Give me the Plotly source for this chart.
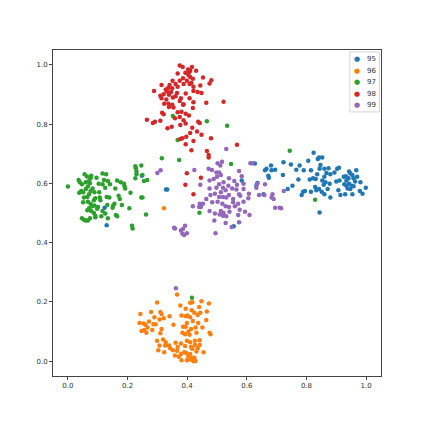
import plotly.graph_objects as go

# cluster labels and colours (matplotlib tab10)
labels = ["95", "96", "97", "98", "99"]
colors = ["#1f77b4", "#ff7f0e", "#2ca02c", "#d62728", "#9467bd"]

# points, (x, y)
pts_95 = [(0.627,0.667),(0.661,0.644),(0.666,0.649),(0.681,0.660),(0.683,0.644),(0.695,0.646),
          (0.672,0.626),(0.674,0.619),(0.636,0.601),(0.632,0.592),(0.721,0.628),(0.723,0.671),
          (0.748,0.664),(0.766,0.646),(0.777,0.660),(0.791,0.644),(0.806,0.676),(0.815,0.644),
          (0.824,0.703),(0.838,0.682),(0.842,0.687),(0.853,0.687),(0.847,0.662),(0.844,0.649),
          (0.860,0.649),(0.874,0.651),(0.867,0.635),(0.880,0.631),(0.894,0.637),(0.903,0.649),
          (0.909,0.653),(0.836,0.631),(0.822,0.617),(0.811,0.613),(0.831,0.615),(0.853,0.610),
          (0.860,0.622),(0.773,0.613),(0.753,0.592),(0.737,0.581),(0.789,0.572),(0.784,0.561),
          (0.795,0.574),(0.815,0.572),(0.829,0.588),(0.833,0.577),(0.842,0.581),(0.851,0.572),
          (0.860,0.563),(0.871,0.581),(0.858,0.595),(0.864,0.604),(0.878,0.599),(0.900,0.606),
          (0.911,0.610),(0.925,0.622),(0.932,0.624),(0.934,0.610),(0.943,0.640),(0.947,0.633),
          (0.954,0.628),(0.967,0.644),(0.970,0.622),(0.958,0.617),(0.941,0.617),(0.927,0.597),
          (0.934,0.592),(0.943,0.599),(0.952,0.592),(0.938,0.583),(0.947,0.581),(0.958,0.590),
          (0.963,0.606),(0.981,0.604),(0.999,0.585),(0.979,0.574),(0.988,0.565),(0.954,0.563),
          (0.930,0.563),(0.914,0.561),(0.907,0.577),(0.880,0.552),(0.844,0.502),
          (0.248,0.626),(0.329,0.579),(0.333,0.579),(0.123,0.518),(0.130,0.459),(0.583,0.610),
          (0.656,0.563),(0.556,0.455)]

pts_96 = [(0.366,0.225),(0.410,0.197),(0.417,0.199),(0.448,0.202),(0.473,0.195),(0.299,0.198),
          (0.377,0.188),(0.395,0.177),(0.415,0.172),(0.440,0.183),(0.444,0.163),(0.424,0.163),
          (0.401,0.154),(0.395,0.152),(0.381,0.154),(0.341,0.152),(0.310,0.166),(0.314,0.159),
          (0.279,0.166),(0.243,0.159),(0.290,0.148),(0.466,0.168),(0.435,0.156),(0.410,0.148),
          (0.419,0.136),(0.464,0.139),(0.437,0.129),(0.399,0.129),(0.321,0.145),(0.307,0.141),
          (0.240,0.129),(0.254,0.127),(0.260,0.123),(0.272,0.134),(0.287,0.125),(0.294,0.125),
          (0.267,0.114),(0.256,0.105),(0.247,0.102),(0.263,0.096),(0.283,0.105),(0.314,0.109),
          (0.354,0.123),(0.386,0.116),(0.395,0.116),(0.413,0.109),(0.428,0.114),(0.451,0.114),
          (0.384,0.096),(0.393,0.091),(0.404,0.100),(0.408,0.089),(0.431,0.096),(0.475,0.096),
          (0.478,0.091),(0.310,0.094),(0.299,0.069),(0.319,0.073),(0.328,0.064),(0.307,0.053),
          (0.326,0.053),(0.339,0.053),(0.361,0.062),(0.343,0.044),(0.352,0.037),(0.303,0.037),
          (0.323,0.030),(0.366,0.035),(0.379,0.060),(0.393,0.051),(0.399,0.069),(0.410,0.064),
          (0.426,0.055),(0.442,0.055),(0.368,0.048),(0.379,0.024),(0.390,0.030),(0.397,0.028),
          (0.404,0.017),(0.410,0.024),(0.417,0.012),(0.424,0.012),(0.431,0.033),(0.435,0.044),
          (0.455,0.030),(0.372,0.015),(0.381,0.003),(0.399,0.003),(0.410,0.006),(0.428,0.001),
          (0.421,0.000),(0.359,0.019),(0.426,0.069),(0.442,0.071),(0.413,0.048),(0.417,0.042),
          (0.322,0.516)]

pts_97 = [(0.000,0.589),(0.036,0.611),(0.040,0.604),(0.056,0.631),(0.064,0.623),(0.047,0.597),
          (0.060,0.604),(0.071,0.608),(0.076,0.617),(0.078,0.626),(0.074,0.600),(0.067,0.589),
          (0.060,0.581),(0.051,0.570),(0.038,0.568),(0.045,0.574),(0.083,0.583),(0.076,0.574),
          (0.096,0.619),(0.116,0.633),(0.128,0.631),(0.121,0.611),(0.134,0.608),(0.141,0.597),
          (0.103,0.599),(0.116,0.597),(0.125,0.585),(0.105,0.570),(0.089,0.570),(0.071,0.563),
          (0.065,0.554),(0.054,0.552),(0.051,0.536),(0.067,0.538),(0.076,0.531),(0.087,0.543),
          (0.092,0.550),(0.107,0.552),(0.109,0.543),(0.130,0.554),(0.139,0.552),(0.081,0.523),
          (0.071,0.516),(0.065,0.509),(0.078,0.507),(0.089,0.525),(0.101,0.520),(0.098,0.514),
          (0.116,0.507),(0.125,0.498),(0.112,0.489),(0.092,0.491),(0.087,0.500),(0.132,0.527),
          (0.152,0.525),(0.150,0.518),(0.156,0.531),(0.170,0.558),(0.174,0.547),(0.165,0.610),
          (0.177,0.604),(0.188,0.599),(0.190,0.590),(0.192,0.583),(0.159,0.583),(0.181,0.527),
          (0.206,0.516),(0.210,0.568),(0.228,0.651),(0.230,0.640),(0.230,0.631),(0.226,0.658),
          (0.246,0.660),(0.250,0.628),(0.226,0.617),(0.255,0.608),(0.266,0.611),(0.315,0.685),
          (0.246,0.552),(0.250,0.552),(0.262,0.495),(0.215,0.457),(0.217,0.448),(0.047,0.482),
          (0.054,0.477),(0.060,0.475),(0.067,0.475),(0.074,0.482),(0.092,0.486),(0.161,0.493),
          (0.165,0.489),(0.134,0.482),
          (0.352,0.827),(0.466,0.810),(0.534,0.794),(0.368,0.746),(0.373,0.679),(0.547,0.665),
          (0.441,0.501),(0.744,0.710),(0.829,0.545),(0.416,0.214)]

pts_98 = [(0.375,0.998),(0.385,0.993),(0.416,0.993),(0.403,0.984),(0.410,0.980),(0.368,0.971),
          (0.394,0.973),(0.406,0.975),(0.430,0.980),(0.404,0.966),(0.410,0.959),(0.386,0.955),
          (0.419,0.953),(0.453,0.957),(0.481,0.948),(0.375,0.946),(0.399,0.946),(0.351,0.946),
          (0.414,0.939),(0.361,0.935),(0.388,0.935),(0.408,0.935),(0.314,0.932),(0.341,0.932),
          (0.421,0.926),(0.368,0.926),(0.337,0.923),(0.350,0.921),(0.328,0.917),(0.475,0.937),
          (0.444,0.930),(0.289,0.912),(0.332,0.910),(0.346,0.908),(0.321,0.901),(0.366,0.905),
          (0.395,0.903),(0.421,0.912),(0.435,0.908),(0.448,0.905),(0.310,0.896),(0.314,0.887),
          (0.339,0.899),(0.352,0.890),(0.330,0.883),(0.361,0.894),(0.379,0.887),(0.408,0.887),
          (0.375,0.878),(0.323,0.869),(0.337,0.869),(0.350,0.865),(0.388,0.867),(0.421,0.874),
          (0.464,0.872),(0.522,0.875),(0.339,0.858),(0.354,0.856),(0.386,0.865),(0.419,0.854),
          (0.316,0.838),(0.321,0.833),(0.368,0.840),(0.381,0.842),(0.395,0.835),(0.406,0.829),
          (0.375,0.824),(0.265,0.815),(0.285,0.804),(0.292,0.808),(0.310,0.811),(0.359,0.820),
          (0.388,0.813),(0.395,0.802),(0.377,0.797),(0.437,0.808),(0.442,0.804),(0.334,0.786),
          (0.348,0.791),(0.417,0.788),(0.410,0.770),(0.433,0.775),(0.448,0.764),(0.384,0.752),
          (0.377,0.750),(0.397,0.757),(0.421,0.743),(0.395,0.732),(0.480,0.752),(0.567,0.730),
          (0.414,0.712),(0.466,0.709),(0.472,0.696),(0.472,0.687),(0.399,0.634),(0.446,0.619),
          (0.394,0.595),(0.421,0.563)]

pts_99 = [(0.531,0.716),(0.517,0.673),(0.502,0.668),(0.511,0.660),(0.424,0.645),(0.472,0.649),
          (0.483,0.645),(0.498,0.637),(0.507,0.637),(0.513,0.628),(0.500,0.622),(0.489,0.615),
          (0.574,0.642),(0.583,0.624),(0.475,0.610),(0.540,0.617),(0.558,0.608),(0.522,0.604),
          (0.507,0.597),(0.444,0.595),(0.475,0.583),(0.498,0.585),(0.520,0.585),(0.538,0.592),
          (0.551,0.583),(0.567,0.595),(0.589,0.599),(0.565,0.579),(0.529,0.577),(0.513,0.570),
          (0.493,0.565),(0.478,0.561),(0.574,0.563),(0.578,0.558),(0.607,0.565),(0.632,0.585),
          (0.634,0.599),(0.641,0.561),(0.661,0.597),(0.540,0.561),(0.507,0.554),(0.520,0.554),
          (0.531,0.552),(0.554,0.547),(0.554,0.536),(0.464,0.547),(0.484,0.536),(0.502,0.538),
          (0.518,0.531),(0.529,0.523),(0.540,0.520),(0.560,0.523),(0.571,0.531),(0.589,0.538),
          (0.605,0.550),(0.442,0.531),(0.453,0.531),(0.419,0.523),(0.440,0.520),(0.446,0.520),
          (0.475,0.507),(0.513,0.507),(0.522,0.500),(0.509,0.495),(0.493,0.498),(0.531,0.489),
          (0.542,0.504),(0.576,0.511),(0.594,0.504),(0.609,0.493),(0.571,0.493),(0.520,0.491),
          (0.491,0.475),(0.529,0.466),(0.574,0.469),(0.549,0.453),(0.359,0.448),(0.386,0.446),
          (0.393,0.457),(0.379,0.441),(0.384,0.430),(0.399,0.432),(0.390,0.426),(0.495,0.432),
          (0.695,0.518),(0.710,0.518),(0.683,0.552),(0.612,0.668),(0.618,0.668),(0.589,0.581),
          (0.659,0.561),(0.686,0.563),(0.690,0.547),(0.724,0.574),(0.715,0.516),
          (0.300,0.635),(0.311,0.644),(0.356,0.450),(0.362,0.246)]

groups = [pts_95, pts_96, pts_97, pts_98, pts_99]

fig = go.Figure()
for name, col, pts in zip(labels, colors, groups):
    fig.add_trace(go.Scatter(
        x=[p[0] for p in pts], y=[p[1] for p in pts],
        mode="markers", name=name, showlegend=False,
        marker=dict(color=col, size=4.5, line=dict(width=0)),
    ))

axis_style = dict(
    range=[-0.05, 1.05], tickvals=[0, 0.2, 0.4, 0.6, 0.8, 1.0], tickformat=".1f",
    showgrid=False, zeroline=False, showline=True, mirror=True,
    linecolor="#444", linewidth=1, ticks="outside", ticklen=3, tickcolor="#444",
    tickfont=dict(size=7, color="#333"),
)

# compact matplotlib-style legend (plotly's own rows are too tall)
fig.add_shape(type="rect", xref="paper", yref="paper",
              x0=0.905, x1=0.995, y0=0.81, y1=0.994,
              line=dict(color="#d5d5d5", width=1), fillcolor="rgba(255,255,255,0.8)",
              layer="above")
for i, (name, col) in enumerate(zip(labels, colors)):
    yy = 0.972 - i * 0.0355
    fig.add_annotation(xref="paper", yref="paper", x=0.927, y=yy, text="●",
                       showarrow=False, font=dict(size=7, color=col),
                       xanchor="center", yanchor="middle")
    fig.add_annotation(xref="paper", yref="paper", x=0.950, y=yy, text=name,
                       showarrow=False, font=dict(size=7, color="#333"),
                       xanchor="left", yanchor="middle")

fig.update_layout(
    width=415, height=415,
    margin=dict(l=45, r=42, t=42, b=47),
    paper_bgcolor="white", plot_bgcolor="white",
    font=dict(family="DejaVu Sans", size=7, color="#333"),
    xaxis=axis_style, yaxis=axis_style,
)

fig.write_html("out.html")
